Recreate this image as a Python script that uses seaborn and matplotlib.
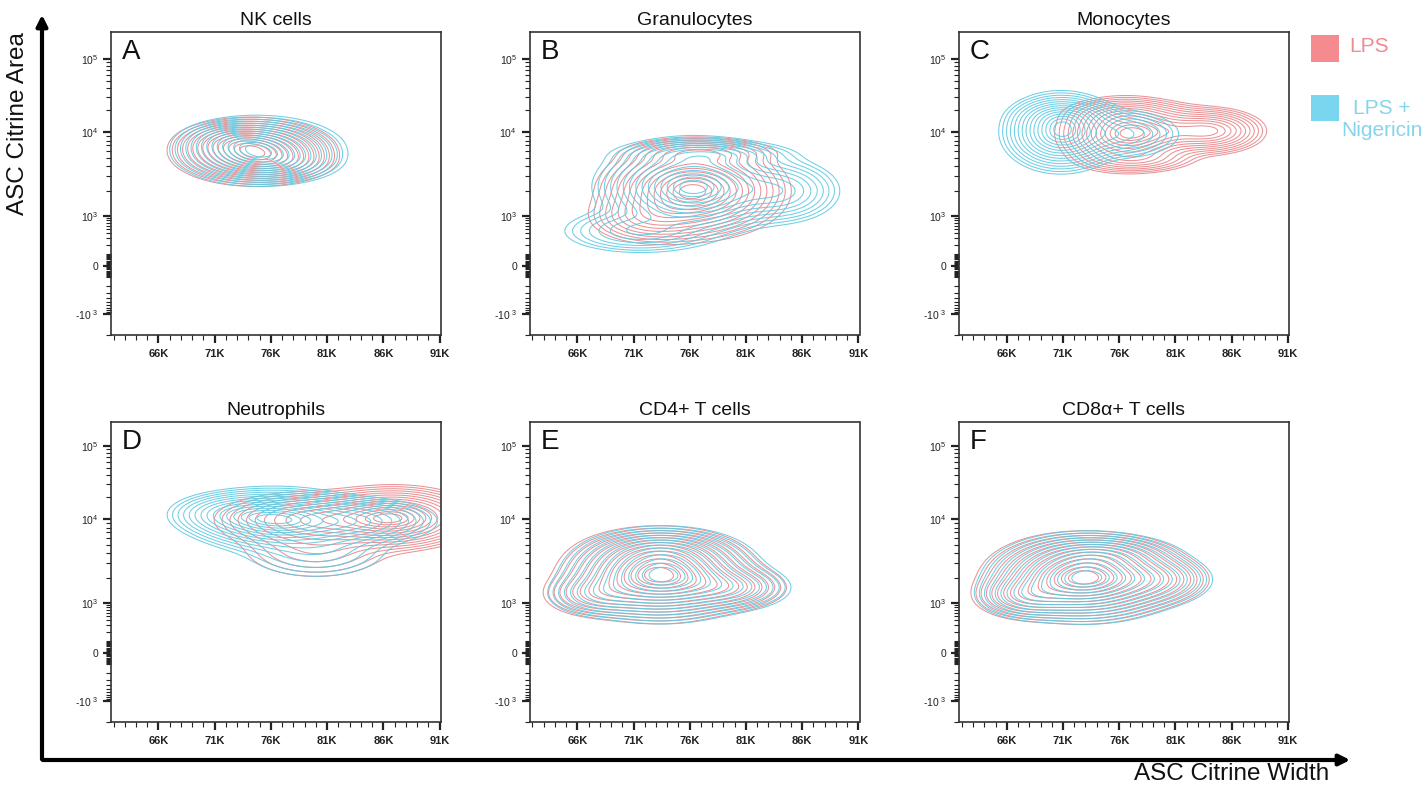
import numpy as np
import matplotlib
matplotlib.use("Agg")
import matplotlib.pyplot as plt
from matplotlib.patches import FancyArrowPatch, Rectangle
import seaborn as sns

# ---------------------------------------------------------------------------
# Data: each population is a small mixture of Gaussian components
# (centre width in K, centre log10 area, sd width in K,
#  sd along the display axis in decades, peak height)
# ---------------------------------------------------------------------------
panel_titles = ["NK cells", "Granulocytes", "Monocytes",
                "Neutrophils", "CD4+ T cells", "CD8\u03b1+ T cells"]
panel_letters = ["A", "B", "C", "D", "E", "F"]
conditions = ["LPS", "LPS +\nNigericin"]

nk_lps = [(74.4, 3.77, 2.9, 0.165, 1.0), (72.5, 3.90, 2.0, 0.10, 0.2),
          (76.5, 3.63, 2.2, 0.10, 0.2)]
nk_nig = [(74.9, 3.78, 3.0, 0.17, 1.0), (72.8, 3.92, 2.0, 0.10, 0.2),
          (77.0, 3.64, 2.2, 0.10, 0.2)]

gran_lps = [(76.3, 3.30, 3.3, 0.24, 1.0), (77.0, 3.76, 3.0, 0.08, 0.25),
            (72.5, 2.97, 2.5, 0.15, 0.25)]
gran_nig = [(76.3, 3.35, 3.4, 0.24, 1.0), (77.5, 3.74, 3.5, 0.08, 0.25),
            (84.0, 3.30, 2.4, 0.18, 0.35), (71.5, 2.65, 3.2, 0.13, 0.25)]

mono_lps = [(76.5, 3.98, 2.4, 0.18, 1.0), (84.3, 4.02, 2.0, 0.12, 0.6),
            (80.5, 4.02, 2.5, 0.14, 0.45), (76.5, 4.25, 2.5, 0.09, 0.2),
            (77.5, 3.68, 2.5, 0.08, 0.2)]
mono_nig = [(70.8, 4.00, 2.1, 0.20, 1.0), (71.2, 4.22, 2.0, 0.10, 0.25),
            (76.0, 3.98, 2.5, 0.14, 0.3)]

neut_lps = [(87.0, 4.02, 3.0, 0.16, 1.0), (80.0, 4.00, 3.8, 0.15, 0.55),
            (80.0, 3.65, 3.5, 0.20, 0.15)]
neut_nig = [(76.5, 4.00, 3.3, 0.16, 1.0), (72.5, 4.08, 2.5, 0.12, 0.3),
            (83.5, 3.98, 3.2, 0.13, 0.45), (80.0, 3.65, 3.5, 0.20, 0.15)]

cd4_lps = [(73.2, 3.33, 3.5, 0.23, 1.0), (73.2, 3.62, 2.8, 0.12, 0.2),
           (79.3, 3.18, 2.5, 0.13, 0.25), (67.6, 3.10, 2.2, 0.13, 0.2)]
cd4_nig = [(73.6, 3.33, 3.5, 0.23, 1.0), (73.6, 3.62, 2.8, 0.12, 0.2),
           (79.7, 3.18, 2.5, 0.13, 0.25), (68.0, 3.10, 2.2, 0.13, 0.2)]

cd8_lps = [(72.7, 3.30, 3.5, 0.22, 1.0), (74.3, 3.58, 3.0, 0.11, 0.2),
           (67.6, 3.08, 2.1, 0.13, 0.25), (78.9, 3.28, 2.5, 0.15, 0.2)]
cd8_nig = [(73.0, 3.30, 3.5, 0.22, 1.0), (74.6, 3.58, 3.0, 0.11, 0.2),
           (67.9, 3.08, 2.1, 0.13, 0.25), (79.2, 3.28, 2.5, 0.15, 0.2)]

populations = [(nk_lps, nk_nig), (gran_lps, gran_nig), (mono_lps, mono_nig),
               (neut_lps, neut_nig), (cd4_lps, cd4_nig), (cd8_lps, cd8_nig)]

x_tick_values = [66, 71, 76, 81, 86, 91]
x_tick_labels = ["66K", "71K", "76K", "81K", "86K", "91K"]
y_tick_values = [-1e3, 0, 1e3, 1e4, 1e5]
y_tick_labels = [r"-10$^{\ 3}$", "0", r"10$^{3}$", r"10$^{4}$", r"10$^{5}$"]

# ---------------------------------------------------------------------------
# Style
# ---------------------------------------------------------------------------
sns.set_theme(style="white")
plt.rcParams["font.family"] = ["Liberation Sans", "DejaVu Sans"]
plt.rcParams["mathtext.default"] = "regular"

line_colors = {"LPS": "#E8878B", "LPS +\nNigericin": "#5FCAE2"}
legend_colors = {"LPS": "#F58B8E", "LPS +\nNigericin": "#7AD5EE"}
text_colors = {"LPS": "#EE8A92", "LPS +\nNigericin": "#86D4EA"}

# Biexponential-like display scale for the area axis
ASINH_C = 150.0
_anchor_vals = np.array([-1e6, -1e3, 0.0, 1e3, 1e4, 1e5, 1e7])
_anchor_pos = np.array([-188.0, 19.0, 68.0, 118.0, 202.0, 276.0, 424.0])
_anchor_asinh = np.arcsinh(_anchor_vals / ASINH_C)
DISPLAY_PER_DECADE = 80.0


def biex_forward(v):
    v = np.asarray(v, dtype=float)
    return np.interp(np.arcsinh(v / ASINH_C), _anchor_asinh, _anchor_pos)


def biex_inverse(u):
    u = np.asarray(u, dtype=float)
    return ASINH_C * np.sinh(np.interp(u, _anchor_pos, _anchor_asinh))


# Density grid, evaluated in display space (as cytometry software does)
gx = np.linspace(58, 96, 320)
gu = np.linspace(-20, 330, 360)
GX, GU = np.meshgrid(gx, gu)
GY = biex_inverse(GU)


def mixture_density(components):
    z = np.zeros_like(GX)
    for cx, cy, sx, sy, h in components:
        uc = biex_forward(10 ** cy)
        su = sy * DISPLAY_PER_DECADE
        z += h * np.exp(-0.5 * (((GX - cx) / sx) ** 2 + ((GU - uc) / su) ** 2))
    return z


# contour radii (in sd units of a single Gaussian), evenly spaced rings
ring_radii = np.linspace(2.65, 0.35, 15)


def ring_levels(z):
    return np.sort(z.max() * np.exp(-0.5 * ring_radii ** 2))


# ---------------------------------------------------------------------------
# Figure
# ---------------------------------------------------------------------------
W, H = 1427, 790
fig = plt.figure(figsize=(W / 100, H / 100), dpi=100)
fig.patch.set_facecolor("white")

col_left = [110.7, 529.5, 959.0]
row_top = [32.0, 422.0]
row_h = [303.0, 300.0]
panel_w = 330.0

minor_y = []
for j in range(1, 5):
    for k in range(2, 10):
        minor_y.append(k * 10 ** j)
for j in range(1, 3):
    for k in range(1, 10):
        minor_y.append(-k * 10 ** j)
minor_y += [10.0, 100.0, -2000.0]

for i, (title, letter, (pop_lps, pop_nig)) in enumerate(zip(panel_titles, panel_letters, populations)):
    r, c = divmod(i, 3)
    left = col_left[c] / W
    bottom = 1 - (row_top[r] + row_h[r]) / H
    ax = fig.add_axes([left, bottom, panel_w / W, row_h[r] / H])
    ax.set_yscale("function", functions=(biex_forward, biex_inverse))

    for cond, comps in zip(conditions, (pop_lps, pop_nig)):
        z = mixture_density(comps)
        ax.contour(GX, GY, z, levels=ring_levels(z), colors=line_colors[cond],
                   linewidths=0.75, alpha=0.9)

    ax.set_xlim(61.75, 91.1)
    ax.set_ylim(biex_inverse(0), biex_inverse(row_h[r]))

    ax.set_xticks(x_tick_values, labels=x_tick_labels)
    ax.set_xticks(np.arange(62, 92, 1), minor=True)
    ax.set_yticks(y_tick_values, labels=y_tick_labels)
    ax.set_yticks(minor_y, minor=True)
    ax.tick_params(axis="both", which="major", direction="out", length=6,
                   width=1.6, color="#222222", labelsize=7.5,
                   labelcolor="#222222", bottom=True, left=True)
    ax.tick_params(axis="x", which="major", labelsize=8)
    ax.tick_params(axis="both", which="minor", direction="out", length=3.5,
                   width=0.8, color="#222222", bottom=True, left=True)
    ax.tick_params(axis="x", which="major", pad=4)
    ax.tick_params(axis="y", which="major", pad=3)
    for lab in ax.get_xticklabels():
        lab.set_fontweight("bold")
    for sp in ax.spines.values():
        sp.set_visible(True)
        sp.set_color("#333333")
        sp.set_linewidth(1.2)
    ax.grid(False)
    ax.set_xlabel("")
    ax.set_ylabel("")
    ax.set_title(title, fontsize=14, pad=5, color="#111111")
    ax.text(0.033, 0.978, letter, transform=ax.transAxes, ha="left", va="top",
            fontsize=20, color="#111111")

# Shared axis arrows
fig.add_artist(FancyArrowPatch((42 / W, 1 - 762 / H), (42 / W, 1 - 12 / H),
                               transform=fig.transFigure, arrowstyle="-|>",
                               mutation_scale=16, lw=3, color="black"))
fig.add_artist(FancyArrowPatch((40 / W, 1 - 760 / H), (1353 / W, 1 - 760 / H),
                               transform=fig.transFigure, arrowstyle="-|>",
                               mutation_scale=16, lw=3, color="black"))
fig.text(18 / W, 1 - 124 / H, "ASC Citrine Area", rotation=90,
         ha="center", va="center", fontsize=17.5, color="#111111")
fig.text(1232 / W, 1 - 774 / H, "ASC Citrine Width",
         ha="center", va="center", fontsize=17.5, color="#111111")

# Condition key
fig.add_artist(Rectangle((1310.7 / W, 1 - 61.7 / H), 28.6 / W, 26.7 / H,
                         transform=fig.transFigure, color=legend_colors["LPS"], lw=0))
fig.add_artist(Rectangle((1310.7 / W, 1 - 120.5 / H), 28.6 / W, 25.5 / H,
                         transform=fig.transFigure,
                         color=legend_colors["LPS +\nNigericin"], lw=0))
fig.text(1349 / W, 1 - 47 / H, conditions[0], ha="left", va="center",
         fontsize=15, color=text_colors["LPS"])
fig.text(1382 / W, 1 - 119 / H, conditions[1], ha="center", va="center",
         multialignment="center", linespacing=1.2,
         fontsize=15, color=text_colors["LPS +\nNigericin"])

fig.savefig("out.png", dpi=100, facecolor="white")
